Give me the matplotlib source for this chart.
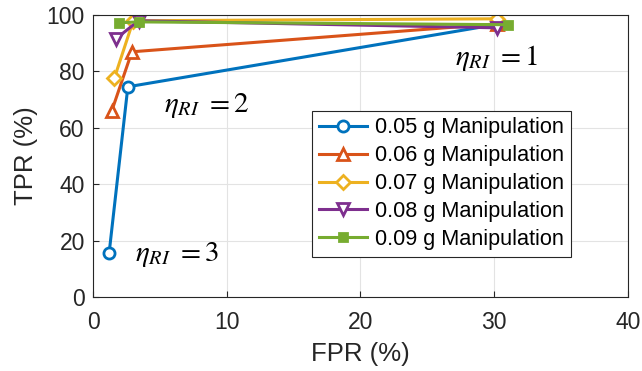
import numpy as np
import matplotlib.pyplot as plt

plt.rcParams['font.family'] = ['Liberation Sans', 'DejaVu Sans']
plt.rcParams['mathtext.fontset'] = 'stix'

# ROC 点：每种操作量下 eta_RI = 3, 2, 1
labels = ['0.05 g Manipulation', '0.06 g Manipulation', '0.07 g Manipulation',
          '0.08 g Manipulation', '0.09 g Manipulation']
fpr_005 = [1.2, 2.6, 30.2]
tpr_005 = [15.6, 74.5, 96.6]
fpr_006 = [1.4, 2.9, 30.2]
tpr_006 = [66.0, 86.9, 96.8]
fpr_007 = [1.6, 3.0, 30.2]
tpr_007 = [77.7, 97.9, 98.6]
fpr_008 = [1.7, 3.4, 30.2]
tpr_008 = [91.5, 97.9, 95.4]
fpr_009 = [1.95, 3.45, 31.0]
tpr_009 = [97.2, 97.5, 96.5]

colors = ['#0072BD', '#D95319', '#EDB120', '#7E2F8E', '#77AC30']
markers = ['o', '^', 'D', 'v', 's']
msizes = [8, 9, 7, 9, 6]

fig = plt.figure(figsize=(6.42, 3.71), dpi=100)
ax = fig.add_axes([0.145, 0.1995, 0.833, 0.7605])

xs = [fpr_005, fpr_006, fpr_007, fpr_008, fpr_009]
ys = [tpr_005, tpr_006, tpr_007, tpr_008, tpr_009]
for i in range(5):
    mfc = colors[i] if markers[i] == 's' else 'white'
    ax.plot(xs[i], ys[i], color=colors[i], marker=markers[i], markersize=msizes[i],
            markerfacecolor=mfc, markeredgewidth=2, linewidth=2.2, label=labels[i])

ax.text(27.1, 84.8, r'$\eta_{RI}\ = 1$', fontsize=21, va='center')
ax.text(5.3, 68.0, r'$\eta_{RI}\ = 2$', fontsize=21, va='center')
ax.text(3.1, 14.9, r'$\eta_{RI}\ = 3$', fontsize=21, va='center')

ax.set_xlim(0, 40)
ax.set_ylim(0, 100)
ax.set_xticks([0, 10, 20, 30, 40])
ax.set_yticks([0, 20, 40, 60, 80, 100])
ax.grid(True, color='#e3e3e3', linewidth=0.8)
ax.set_axisbelow(True)
ax.tick_params(direction='in', labelsize=16.5, colors='#262626', length=4)
ax.tick_params(axis='x', pad=10)
ax.tick_params(axis='y', pad=6)
for s in ax.spines.values():
    s.set_color('#262626')
    s.set_linewidth(0.8)
ax.set_xlabel('FPR (%)', fontsize=18.5, color='#262626', labelpad=6)
ax.set_ylabel('TPR (%)', fontsize=18.5, color='#262626', labelpad=6)

leg = ax.legend(loc='upper left', bbox_to_anchor=(0.41, 0.66), fontsize=15.6,
                fancybox=False, framealpha=1, edgecolor='#262626',
                handlelength=2.2, handletextpad=0.4, borderpad=0.3,
                labelspacing=0.32, borderaxespad=0)
leg.get_frame().set_linewidth(0.8)

fig.savefig('out.png', dpi=100)
